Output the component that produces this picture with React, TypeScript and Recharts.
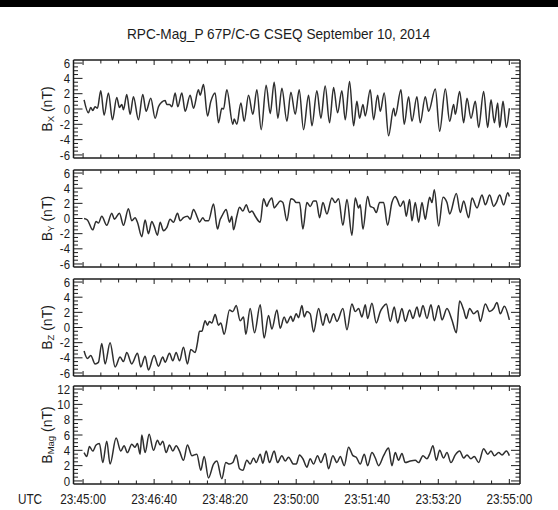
import React from 'react';
import { LineChart, Line, XAxis, YAxis } from 'recharts';

const FONT = '"Liberation Sans", Arial, sans-serif';
const INK = '#1c1c1c';

const chartTitle = 'RPC-Mag_P 67P/C-G CSEQ September 10, 2014';
const timeAxisName = 'UTC';
// seconds after 23:45:00
const timeTicks = [0, 100, 200, 300, 400, 500, 600];
const timeTickLabels = ['23:45:00', '23:46:40', '23:48:20', '23:50:00', '23:51:40', '23:53:20', '23:55:00'];

// [seconds, nT]
const bxReadings: [number, number][] = [
  [1.4, 1.2], [7.5, -0.5], [10.8, 0.2], [13.6, -0.2], [16.9, 0.3], [20.2, 0.1], [24.9, 2.4], [29.6, -0.8], [35.7, 2.1], [41.3, -1.4],
  [47.4, 1.5], [51.2, 0.2], [54.5, 0.6], [56.8, -0.1], [61.5, 1.9], [66.2, -0.7], [70.9, 1.6], [77.9, -1.4], [84.0, 1.9], [88.7, -0.3],
  [95.3, 1.4], [101.4, -1.2], [106.1, 0.3], [110.8, 0.9], [115.5, 1.1], [117.8, 0.6], [121.6, 0.6], [124.9, 0.3], [129.6, 2.1], [133.3, 0.3],
  [139.0, 2.1], [143.7, -0.3], [150.7, 1.8], [155.4, 0.1], [162.4, 2.5], [164.8, 1.8], [169.5, 3.2], [175.1, -0.9], [179.8, 1.0], [185.9, 2.1],
  [190.6, -1.8], [195.3, 0.1], [197.7, 0.0], [202.3, 2.5], [210.8, -2.0], [212.7, -1.3], [216.4, -2.0], [222.1, 0.8], [226.8, -1.6], [232.9, 1.8],
  [239.0, -0.7], [244.6, 2.5], [250.7, -2.7], [257.7, 3.1], [263.4, -0.6], [269.0, 3.5], [274.2, -1.2], [279.8, 2.7], [286.9, -1.6], [292.5, 2.2],
  [298.6, -0.7], [304.2, 2.5], [310.3, -2.7], [317.4, 1.8], [322.1, -2.2], [329.1, 2.4], [334.7, -1.2], [340.8, 3.0], [346.9, -1.8], [352.6, 2.8],
  [358.2, -0.5], [364.3, 2.4], [369.0, -1.4], [375.1, 3.6], [380.8, -2.2], [385.4, 1.0], [389.2, -1.2], [393.9, 0.6], [397.2, -0.9], [404.2, 2.5],
  [408.9, -1.4], [414.6, 1.8], [418.3, -0.3], [423.9, 2.1], [430.0, -3.5], [437.1, 0.1], [439.4, -0.9], [447.4, 2.5], [452.1, -2.0], [458.2, 1.6],
  [462.9, -1.6], [469.9, 1.6], [474.6, -1.8], [481.7, 1.6], [486.4, -0.3], [495.8, 2.6], [501.9, -2.9], [509.9, 2.6], [516.0, -1.6], [521.6, 0.6],
  [524.0, -0.7], [530.0, 2.3], [535.7, -1.8], [540.4, 1.4], [546.0, -1.2], [552.1, 1.0], [556.8, -2.4], [563.8, 2.3], [569.5, -2.4], [574.2, 1.2],
  [578.9, -1.8], [583.6, 0.8], [586.4, -2.4], [591.1, 1.0], [595.8, -2.4], [600, 0.1],
];

const byReadings: [number, number][] = [
  [1.4, 0.0], [6.1, -0.2], [13.6, -1.5], [18.3, -0.4], [21.6, -0.6], [26.3, 0.3], [33.3, -0.9], [40.4, 0.7], [44.1, -0.1], [51.2, 0.7],
  [56.8, -0.9], [63.8, 1.3], [68.5, -0.3], [73.2, 0.1], [76.5, -0.5], [82.6, -2.4], [87.3, -0.2], [92.0, -2.0], [96.7, -0.4], [100.0, -1.0],
  [104.7, -2.2], [108.5, -0.5], [113.1, -1.6], [117.8, -1.2], [122.5, -0.1], [127.2, -0.5], [132.9, 0.7], [136.6, -0.3], [141.3, 0.1], [146.9, 0.3],
  [150.7, -0.1], [155.4, 1.2], [161.0, 0.1], [163.8, -0.5], [168.5, 0.1], [171.8, -0.3], [176.5, -0.3], [183.6, 1.9], [189.2, -1.4], [193.0, -0.1],
  [195.3, 0.3], [201.4, 1.2], [206.1, -0.5], [209.4, 0.3], [211.7, -1.5], [216.4, 0.3], [220.2, 1.5], [224.9, 1.0], [229.6, 1.8], [234.3, 0.8],
  [237.6, 1.0], [242.3, 0.3], [249.3, -0.5], [254.0, 2.6], [258.7, 1.6], [261.0, 2.1], [265.7, 2.7], [269.0, 1.4], [272.8, 1.8], [277.5, 2.3],
  [281.2, 2.1], [286.9, -0.3], [292.5, 2.6], [296.2, 2.5], [300.0, 2.1], [304.7, 2.1], [309.4, -1.4], [315.0, 2.1], [319.7, 1.6], [324.4, 2.3],
  [328.2, 2.3], [332.9, 0.1], [337.6, 2.1], [343.2, 0.6], [350.2, 2.7], [354.9, 2.1], [359.6, 2.6], [365.7, -0.9], [371.4, 2.5], [378.4, -2.2],
  [383.1, 2.7], [387.8, 1.4], [390.1, 1.8], [393.9, -1.4], [400.5, 2.9], [404.2, 1.6], [408.9, 1.4], [412.7, 0.8], [417.4, 2.1], [423.0, 2.1],
  [428.6, -0.9], [434.7, 2.1], [439.4, 2.9], [441.8, 2.6], [446.5, 1.6], [451.2, 2.3], [454.9, 0.3], [459.6, 2.5], [462.9, -0.3], [467.6, 2.1],
  [472.3, -0.5], [477.0, 2.1], [481.7, -0.1], [484.0, 1.0], [487.8, 2.8], [491.1, 2.1], [494.4, 3.8], [500.5, -1.0], [506.6, 2.8], [512.2, 2.1],
  [516.0, 0.6], [525.4, 3.3], [531.0, 0.8], [535.7, 2.3], [542.7, 0.1], [547.4, 2.7], [554.5, 1.4], [561.5, 3.1], [566.2, 1.8], [572.3, 3.1],
  [577.9, 1.6], [581.7, 2.1], [586.4, 3.1], [592.0, 1.8], [597.7, 3.4], [600, 2.9],
];

const bzReadings: [number, number][] = [
  [1.4, -3.1], [6.1, -4.1], [10.8, -3.7], [16.9, -4.8], [21.6, -4.6], [26.3, -2.1], [31.0, -4.8], [38.0, -2.0], [45.1, -5.2], [52.1, -3.9],
  [56.8, -4.5], [61.5, -3.3], [68.5, -4.8], [76.5, -3.4], [81.2, -5.2], [87.3, -3.8], [92.0, -5.6], [100.0, -3.7], [106.1, -5.1], [112.2, -3.9],
  [115.5, -4.6], [121.6, -3.4], [126.3, -4.4], [131.0, -3.3], [135.7, -4.4], [141.3, -2.6], [146.9, -4.8], [151.6, -2.9], [157.7, -3.3], [161.0, -2.0],
  [163.8, -0.5], [167.1, -0.5], [171.8, 0.9], [175.1, 0.3], [177.9, 0.8], [181.2, 0.6], [185.9, 1.7], [190.6, 0.3], [193.9, 0.6], [198.6, -0.9],
  [206.1, 2.3], [210.8, 2.1], [215.5, 2.9], [221.1, 0.9], [225.8, 1.4], [229.1, -0.9], [235.2, 2.5], [241.3, -0.7], [249.3, 3.0], [254.9, -1.4],
  [261.0, 1.6], [265.7, -0.2], [272.8, 2.3], [277.5, -0.1], [283.1, 1.4], [286.9, 0.6], [292.5, 1.5], [295.3, 0.8], [300.0, 1.8], [303.3, 1.3],
  [308.0, 2.9], [311.3, 1.4], [315.0, 2.1], [319.7, 1.8], [324.4, -0.6], [331.5, 2.5], [337.6, 0.3], [342.3, 1.8], [347.0, 0.6], [352.6, 1.8],
  [357.3, 0.8], [365.7, 2.5], [371.4, -0.3], [378.4, 3.1], [383.1, 2.1], [387.8, 2.5], [392.5, 1.4], [397.2, 3.0], [400.5, 1.2], [406.6, 3.2],
  [412.7, 0.6], [418.3, 2.1], [422.1, 2.7], [426.8, 3.1], [432.4, 0.8], [438.0, 2.7], [442.7, 0.6], [448.8, 2.5], [453.5, 0.8], [459.6, 2.3],
  [464.3, 1.2], [470.0, 2.7], [473.7, 1.4], [478.4, 2.9], [484.0, 1.2], [489.7, 3.0], [494.4, 0.9], [500.5, 2.9], [505.2, 1.0], [512.2, 2.5],
  [519.2, 1.0], [525.4, -0.7], [530.0, 3.5], [535.7, 2.3], [539.4, 1.2], [544.1, 2.5], [549.8, 1.8], [555.4, 2.2], [559.2, 0.8], [566.2, 3.1],
  [572.3, 2.1], [577.9, 2.5], [582.6, 3.3], [587.3, 1.8], [593.0, 2.8], [600, 1.0],
];

const bmagReadings: [number, number][] = [
  [1.4, 3.7], [5.2, 3.2], [8.9, 4.5], [13.6, 3.9], [18.3, 4.7], [23.0, 4.9], [27.7, 2.4], [33.3, 5.2], [38.0, 2.2], [46.5, 5.6],
  [53.1, 3.9], [57.7, 4.6], [62.4, 3.7], [68.5, 4.8], [73.2, 4.4], [76.5, 4.9], [80.3, 3.5], [82.6, 6.0], [87.3, 3.7], [93.0, 6.1],
  [99.1, 4.0], [104.7, 5.3], [108.5, 4.7], [112.2, 5.2], [116.9, 3.7], [121.6, 4.7], [126.3, 3.9], [131.0, 4.6], [135.7, 3.9], [141.3, 2.7],
  [146.9, 4.7], [153.1, 3.3], [160.1, 3.5], [165.7, 1.4], [170.4, 3.2], [176.5, 0.4], [183.6, 2.2], [188.3, 2.6], [195.3, 0.3], [200.9, 2.4],
  [206.1, 2.2], [210.8, 2.4], [215.5, 3.4], [220.2, 1.6], [224.9, 1.4], [230.5, 2.7], [235.2, 2.2], [239.9, 3.0], [243.7, 2.4], [249.3, 3.5],
  [253.1, 2.3], [257.7, 3.9], [262.4, 2.4], [269.0, 3.9], [273.7, 2.4], [279.8, 3.3], [284.5, 2.6], [289.2, 3.1], [296.2, 2.2], [300.0, 2.2],
  [304.7, 3.4], [309.4, 2.9], [315.0, 1.8], [319.7, 2.9], [324.4, 2.2], [330.0, 3.3], [334.7, 2.4], [340.8, 3.6], [345.5, 1.6], [351.6, 3.3],
  [357.3, 2.4], [362.0, 3.2], [367.6, 2.0], [373.7, 4.4], [379.8, 3.3], [384.5, 3.1], [390.1, 2.2], [395.8, 3.5], [400.5, 2.0], [406.6, 3.7],
  [411.3, 3.0], [416.0, 2.0], [423.0, 3.3], [430.0, 4.3], [434.7, 2.0], [439.4, 3.7], [444.1, 2.7], [448.8, 3.6], [453.5, 2.4], [460.6, 2.6],
  [467.6, 2.7], [472.3, 2.4], [478.4, 3.3], [484.0, 2.9], [487.8, 3.5], [492.5, 4.6], [497.2, 2.7], [501.9, 4.0], [507.5, 3.0], [512.2, 3.7],
  [517.8, 2.4], [523.9, 3.4], [530.0, 3.9], [535.7, 3.0], [540.4, 3.4], [546.0, 2.9], [550.7, 3.2], [556.8, 2.4], [563.8, 4.2], [569.5, 3.5],
  [574.2, 3.9], [578.9, 3.3], [585.0, 3.7], [589.7, 3.4], [595.8, 3.9], [600, 3.3],
];

const componentNames = ['X', 'Y', 'Z', 'Mag'];
const componentUnit = ' (nT)';

// ---- layout constants ----
const W = 558;
const H = 510;
const PLOT_LEFT = 73.5;
const PLOT_RIGHT = 520;
const TIME_DOMAIN: [number, number] = [-13.5, 615];
const LINE_COLOR = '#2e2e2e';
const AX = 1; // size given to each axis (must be > 0 for Recharts to draw it)

type Panel = {
  name: string;
  readings: [number, number][];
  domain: [number, number];
  lo: number;
  hi: number;
  top: number;
  h: number;
};

const panels: Panel[] = [
  { name: componentNames[0], readings: bxReadings, domain: [-6.4, 6.4], lo: -6, hi: 6, top: 60, h: 98 },
  { name: componentNames[1], readings: byReadings, domain: [-6.4, 6.4], lo: -6, hi: 6, top: 170, h: 97 },
  { name: componentNames[2], readings: bzReadings, domain: [-6.4, 6.4], lo: -6, hi: 6, top: 279, h: 97 },
  { name: componentNames[3], readings: bmagReadings, domain: [-0.4, 12.4], lo: 0, hi: 12, top: 386, h: 98 },
];

const stepTicks = (lo: number, hi: number, step: number) => {
  const out: number[] = [];
  for (let v = lo; v <= hi + 1e-9; v += step) out.push(Math.round(v * 100) / 100);
  return out;
};
const timeAllTicks = stepTicks(0, 600, 25);

const isMajorY = (v: number) => Math.abs(v % 2) < 1e-6;
const isMajorT = (v: number) => Math.abs(v % 100) < 1e-6;

const LeftTick = (props: any) => {
  const { x, y, payload } = props;
  const v = payload.value;
  const major = isMajorY(v);
  return (
    <g>
      <line x1={x} x2={x + (major ? 9 : 4.5)} y1={y} y2={y} stroke={INK} strokeWidth={1} />
      {major && (
        <text
          transform={`translate(${x - 3.5},${y + 4.6}) scale(0.88,1)`}
          textAnchor="end"
          fontSize={13}
          fontFamily={FONT}
          fill={INK}
        >
          {String(v)}
        </text>
      )}
    </g>
  );
};

const RightTick = (props: any) => {
  const { x, y, payload } = props;
  const major = isMajorY(payload.value);
  return <line x1={x} x2={x - (major ? 9 : 4.5)} y1={y} y2={y} stroke={INK} strokeWidth={1} />;
};

const TopTick = (props: any) => {
  const { x, y, payload } = props;
  const major = isMajorT(payload.value);
  return <line x1={x} x2={x} y1={y} y2={y + (major ? 5 : 3.5)} stroke={INK} strokeWidth={1} />;
};

const makeBottomTick = (withLabels: boolean) => (props: any) => {
  const { x, y, payload } = props;
  const v = payload.value;
  const major = isMajorT(v);
  const idx = timeTicks.indexOf(v);
  return (
    <g>
      <line x1={x} x2={x} y1={y} y2={y - (major ? 5 : 3.5)} stroke={INK} strokeWidth={1} />
      {withLabels && idx >= 0 && (
        <text
          transform={`translate(${x},${y + 20}) scale(0.76,1)`}
          textAnchor="middle"
          fontSize={15.5}
          fontFamily={FONT}
          fill={INK}
        >
          {timeTickLabels[idx]}
        </text>
      )}
    </g>
  );
};

const PanelChart = ({ p, last }: { p: Panel; last: boolean }) => {
  const MT = 5;
  const MB = last ? 27 : 5;
  const height = p.h + MT + MB;
  const data = p.readings.map(([t, v]) => ({ t, v }));
  const yTicks = stepTicks(p.lo, p.hi, 0.5);
  const axisLine = { stroke: INK, strokeWidth: 1.5 };
  return (
    <div style={{ position: 'absolute', left: 0, top: p.top - MT, width: W, height }}>
      <LineChart
        width={W}
        height={height}
        data={data}
        margin={{ top: MT - AX, bottom: MB - AX, left: PLOT_LEFT - AX, right: W - PLOT_RIGHT - AX }}
        style={{ overflow: 'visible' }}
      >
        <XAxis
          xAxisId="b"
          dataKey="t"
          type="number"
          scale="linear"
          domain={TIME_DOMAIN}
          allowDataOverflow
          ticks={timeAllTicks}
          interval={0}
          height={AX}
          tickSize={0}
          tickMargin={0}
          tickLine={false}
          axisLine={axisLine}
          tick={makeBottomTick(last)}
        />
        <XAxis
          xAxisId="t"
          orientation="top"
          dataKey="t"
          type="number"
          scale="linear"
          domain={TIME_DOMAIN}
          allowDataOverflow
          ticks={timeAllTicks}
          interval={0}
          height={AX}
          tickSize={0}
          tickMargin={0}
          tickLine={false}
          axisLine={axisLine}
          tick={TopTick}
        />
        <YAxis
          yAxisId="l"
          type="number"
          domain={p.domain}
          allowDataOverflow
          ticks={yTicks}
          interval={0}
          width={AX}
          tickSize={0}
          tickMargin={0}
          tickLine={false}
          axisLine={axisLine}
          tick={LeftTick}
        />
        <YAxis
          yAxisId="r"
          orientation="right"
          type="number"
          domain={p.domain}
          allowDataOverflow
          ticks={yTicks}
          interval={0}
          width={AX}
          tickSize={0}
          tickMargin={0}
          tickLine={false}
          axisLine={axisLine}
          tick={RightTick}
        />
        <Line
          xAxisId="b"
          yAxisId="l"
          type="monotone"
          dataKey="v"
          stroke={LINE_COLOR}
          strokeWidth={1.5}
          dot={false}
          activeDot={false}
          isAnimationActive={false}
        />
      </LineChart>
    </div>
  );
};

export default function App() {
  return (
    <div
      style={{
        position: 'absolute',
        left: 0,
        top: 0,
        width: W,
        height: H,
        background: '#ffffff',
        overflow: 'hidden',
        fontFamily: FONT,
      }}
    >
      <div style={{ position: 'absolute', left: 0, top: 0, width: W, height: 7, background: '#000' }} />
      {panels.map((p, i) => (
        <PanelChart key={p.name} p={p} last={i === panels.length - 1} />
      ))}
      <svg
        width={W}
        height={H}
        style={{ position: 'absolute', left: 0, top: 0, pointerEvents: 'none' }}
      >
        <text
          x={278.5}
          y={38.5}
          textAnchor="middle"
          fontSize={14.5}
          fontFamily={FONT}
          fill={INK}
          textLength={303}
          lengthAdjust="spacingAndGlyphs"
        >
          {chartTitle}
        </text>
        {panels.map((p) => (
          <text
            key={p.name}
            transform={`translate(52,${p.top + p.h / 2}) rotate(-90)`}
            textAnchor="middle"
            fontSize={14}
            fontFamily={FONT}
            fill={INK}
          >
            B
            <tspan fontSize={9.5} dy={2}>
              {p.name}
            </tspan>
            <tspan dy={-2}>{componentUnit}</tspan>
          </text>
        ))}
        <text
          transform={`translate(30,504) scale(0.76,1)`}
          textAnchor="middle"
          fontSize={15.5}
          fontFamily={FONT}
          fill={INK}
        >
          {timeAxisName}
        </text>
      </svg>
    </div>
  );
}
